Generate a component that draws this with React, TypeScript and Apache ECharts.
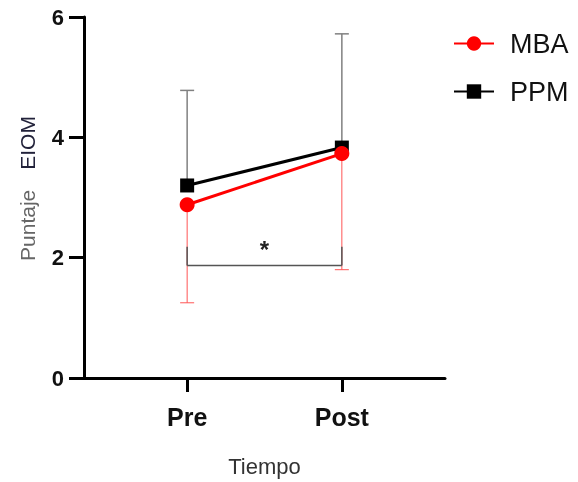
import React, { useEffect, useRef } from "react";
import * as echarts from "echarts";

const categories = ["Pre", "Post"];
const categoryPos = [1, 2];
const mbaMean = [2.88, 3.73];
const mbaLower = [1.25, 1.8];
const ppmMean = [3.2, 3.83];
const ppmUpper = [4.78, 5.72];
const yTicks = [0, 2, 4, 6];
// significance bracket: [x from, x to, y base, y top]
const sigBracket = [1, 2, 1.87, 2.18];
const sigLabel = "*";

const FONT = "'Liberation Sans', Arial, sans-serif";

export default function App() {
  const ref = useRef<HTMLDivElement>(null);
  useEffect(() => {
    if (!ref.current) return;
    const chart = echarts.init(ref.current, null, { renderer: "svg" });

    const errBar = (color: string, width: number) => (params: any, api: any) => {
      const x = api.value(0);
      const m = api.coord([x, api.value(1)]);
      const e = api.coord([x, api.value(2)]);
      const hw = 7;
      return {
        type: "group",
        children: [
          { type: "line", shape: { x1: m[0], y1: m[1], x2: e[0], y2: e[1] }, style: { stroke: color, lineWidth: width } },
          { type: "line", shape: { x1: e[0] - hw, y1: e[1], x2: e[0] + hw, y2: e[1] }, style: { stroke: color, lineWidth: width } },
        ],
      };
    };

    chart.setOption({
      animation: false,
      textStyle: { fontFamily: FONT },
      grid: { left: 84, right: 133, top: 17, bottom: 104, containLabel: false },
      legend: {
        data: ["MBA", "PPM"],
        orient: "vertical",
        left: 448,
        top: 25,
        itemWidth: 40,
        itemHeight: 18,
        itemGap: 21,
        textStyle: { fontSize: 27, color: "#111", fontFamily: FONT, padding: [0, 0, 0, 11] },
      },
      xAxis: {
        type: "value",
        min: 1 / 3,
        max: 8 / 3,
        name: "Tiempo",
        nameLocation: "middle",
        nameGap: 77,
        nameTextStyle: { fontSize: 22, color: "#333", fontFamily: FONT },
        axisLine: { show: true, onZero: false, lineStyle: { color: "#000", width: 3 } },
        axisTick: { show: true, length: 14, lineStyle: { color: "#000", width: 3 }, customValues: categoryPos },
        axisLabel: {
          customValues: categoryPos,
          formatter: (v: number) => {
            const i = categoryPos.indexOf(Math.round(v));
            return i >= 0 ? categories[i] : "";
          },
          fontSize: 25,
          fontWeight: "bold",
          color: "#111",
          margin: 26,
          fontFamily: FONT,
        },
        splitLine: { show: false },
      },
      yAxis: {
        type: "value",
        min: yTicks[0],
        max: yTicks[yTicks.length - 1],
        interval: 2,
        name: "{p|Puntaje}      {e|EIOM}",
        nameLocation: "middle",
        nameGap: 46,
        nameRotate: 90,
        nameTextStyle: {
          fontFamily: FONT,
          padding: [0, 0, 0, 18],
          rich: {
            p: { fontSize: 21, color: "#666", fontFamily: FONT },
            e: { fontSize: 21, color: "#22223a", fontFamily: FONT },
          },
        },
        axisLine: { show: true, lineStyle: { color: "#000", width: 3 } },
        axisTick: { show: true, length: 15, lineStyle: { color: "#000", width: 3 } },
        axisLabel: { fontSize: 22, fontWeight: "bold", color: "#111", margin: 20, fontFamily: FONT },
        splitLine: { show: false },
      },
      series: [
        {
          type: "custom",
          name: "ppmErr",
          z: 1,
          renderItem: errBar("#808080", 1.5),
          data: categoryPos.map((x, i) => [x, ppmMean[i], ppmUpper[i]]),
          silent: true,
        },
        {
          type: "custom",
          name: "mbaErr",
          z: 1,
          renderItem: errBar("#ff5555", 1),
          data: categoryPos.map((x, i) => [x, mbaMean[i], mbaLower[i]]),
          silent: true,
        },
        {
          type: "custom",
          name: "sig",
          z: 1,
          silent: true,
          renderItem: (params: any, api: any) => {
            const a = api.coord([api.value(0), api.value(2)]);
            const b = api.coord([api.value(1), api.value(2)]);
            const at = api.coord([api.value(0), api.value(3)]);
            const bt = api.coord([api.value(1), api.value(3)]);
            const st = { stroke: "#555", lineWidth: 1.5 };
            return {
              type: "group",
              children: [
                { type: "line", shape: { x1: a[0], y1: a[1], x2: b[0], y2: b[1] }, style: st },
                { type: "line", shape: { x1: a[0], y1: a[1], x2: at[0], y2: at[1] }, style: st },
                { type: "line", shape: { x1: b[0], y1: b[1], x2: bt[0], y2: bt[1] }, style: st },
                {
                  type: "text",
                  x: (a[0] + b[0]) / 2,
                  y: at[1] + 3,
                  style: {
                    text: sigLabel,
                    fontSize: 24,
                    fontWeight: "bold",
                    fill: "#222",
                    fontFamily: FONT,
                    align: "center",
                    verticalAlign: "middle",
                  },
                },
              ],
            };
          },
          data: [sigBracket],
        },
        {
          type: "line",
          name: "PPM",
          z: 3,
          data: categoryPos.map((x, i) => [x, ppmMean[i]]),
          symbol: "rect",
          symbolSize: 14,
          itemStyle: { color: "#000" },
          lineStyle: { color: "#000", width: 3 },
        },
        {
          type: "line",
          name: "MBA",
          z: 4,
          data: categoryPos.map((x, i) => [x, mbaMean[i]]),
          symbol: "circle",
          symbolSize: 15,
          itemStyle: { color: "#ff0000" },
          lineStyle: { color: "#ff0000", width: 3 },
        },
      ],
    });
    return () => chart.dispose();
  }, []);
  return <div ref={ref} style={{ position: "fixed", left: 0, top: 0, width: 578, height: 482 }} />;
}
